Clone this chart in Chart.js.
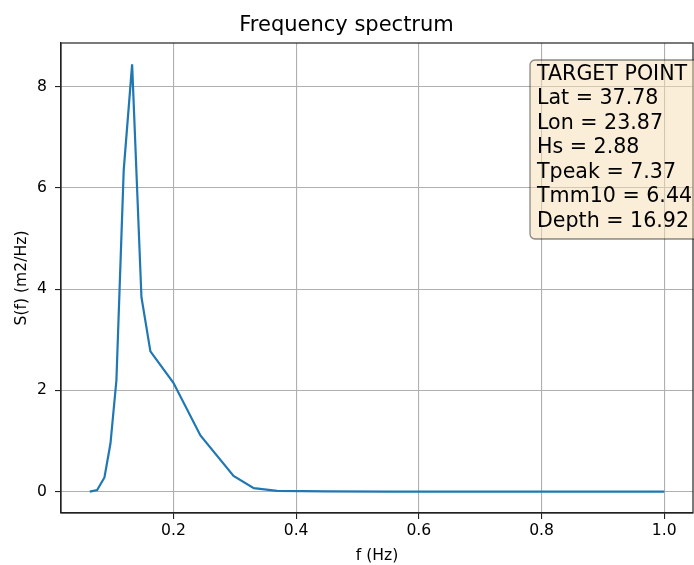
<!DOCTYPE html>
<html>
<head>
<meta charset="utf-8">
<script src="https://cdn.jsdelivr.net/npm/chart.js@4/dist/chart.umd.min.js"></script>
<style>
  html, body { margin: 0; padding: 0; background: #ffffff; }
  #wrap { width: 694px; height: 565px; position: relative; overflow: hidden; }
</style>
</head>
<body>
<div id="wrap"><canvas id="spec" width="694" height="565"></canvas></div>
<script>
// Frequency (Hz) and spectral density S(f) (m2/Hz)
const freq = [0.0636, 0.0757, 0.0876, 0.0974, 0.1071, 0.119, 0.1327, 0.1479, 0.1625, 0.2,
              0.244, 0.298, 0.331, 0.369, 0.45, 0.55, 0.65, 0.75, 0.85, 1.0];
const spec = [0.0, 0.03, 0.28, 0.95, 2.2, 6.35, 8.44, 3.84, 2.77, 2.15,
              1.11, 0.31, 0.07, 0.015, 0.005, 0.002, 0.001, 0.0, 0.0, 0.0];

const xTicks = [0.2, 0.4, 0.6, 0.8, 1.0];
const yTicks = [0, 2, 4, 6, 8];

// Target point summary
const infoLabels = ['Lat', 'Lon', 'Hs', 'Tpeak', 'Tmm10', 'Depth'];
const infoValues = ['37.78', '23.87', '2.88', '7.37', '6.44', '16.92'];
const infoHeader = 'TARGET POINT';

const FONT = "'DejaVu Sans', sans-serif";

// x/y limits with 5% margins around the data range
const xSpan = Math.max(...freq) - Math.min(...freq);
const ySpan = Math.max(...spec) - Math.min(...spec);
const xMin = Math.min(...freq) - 0.05 * xSpan;
const xMax = Math.max(...freq) + 0.05 * xSpan;
const yMin = Math.min(...spec) - 0.05 * ySpan;
const yMax = Math.max(...spec) + 0.05 * ySpan;

const framePlugin = {
  id: 'frame',
  afterDatasetsDraw(chart) {
    const { ctx, chartArea: a } = chart;
    ctx.save();
    ctx.strokeStyle = '#222';
    ctx.lineWidth = 1.2;
    ctx.strokeRect(a.left, a.top, a.right - a.left, a.bottom - a.top);
    ctx.restore();
  }
};

const infoBoxPlugin = {
  id: 'infoBox',
  afterDatasetsDraw(chart) {
    const { ctx } = chart;
    const x0 = 530, y0 = 60, w = 170, h = 179, r = 5;
    ctx.save();
    ctx.beginPath();
    ctx.roundRect(x0, y0, w, h, r);
    ctx.fillStyle = 'rgba(245, 222, 179, 0.5)';
    ctx.fill();
    ctx.strokeStyle = 'rgba(0, 0, 0, 0.45)';
    ctx.lineWidth = 1.3;
    ctx.stroke();
    ctx.fillStyle = '#000';
    ctx.font = '20.6px ' + FONT;
    ctx.textAlign = 'left';
    ctx.textBaseline = 'alphabetic';
    const lines = [infoHeader].concat(infoLabels.map((l, i) => l + ' = ' + infoValues[i]));
    lines.forEach((t, i) => ctx.fillText(t, 537, 80 + 24.45 * i));
    ctx.restore();
  }
};

new Chart(document.getElementById('spec'), {
  type: 'line',
  data: {
    datasets: [{
      data: freq.map((f, i) => ({ x: f, y: spec[i] })),
      borderColor: '#1f77b4',
      borderWidth: 2.2,
      pointRadius: 0,
      tension: 0,
      fill: false
    }]
  },
  options: {
    responsive: false,
    animation: false,
    devicePixelRatio: 1,
    layout: { padding: { left: 0, right: 1, top: 0, bottom: 0 } },
    plugins: {
      legend: { display: false },
      tooltip: { enabled: false },
      title: {
        display: true,
        text: 'Frequency spectrum',
        color: '#000',
        font: { family: FONT, size: 21, weight: 'normal', lineHeight: 1.2 },
        padding: { top: 12.5, bottom: 5.3 }
      }
    },
    scales: {
      x: {
        type: 'linear',
        min: xMin,
        max: xMax,
        afterBuildTicks(scale) { scale.ticks = xTicks.map(v => ({ value: v })); },
        afterFit(scale) { scale.height = 52; },
        ticks: {
          color: '#000',
          font: { family: FONT, size: 15.6 },
          padding: 3,
          maxRotation: 0,
          callback: v => v.toFixed(1)
        },
        grid: { color: '#b0b0b0', lineWidth: 1.1, tickColor: '#222', tickLength: 6, tickWidth: 1.1 },
        border: { display: true, color: '#222', width: 1.2 },
        title: {
          display: true,
          text: 'f (Hz)',
          color: '#000',
          font: { family: FONT, size: 15.6, lineHeight: 1.2 },
          padding: { top: 0, bottom: 0 }
        }
      },
      y: {
        type: 'linear',
        min: yMin,
        max: yMax,
        afterBuildTicks(scale) { scale.ticks = yTicks.map(v => ({ value: v })); },
        afterFit(scale) { scale.width = 61; },
        ticks: {
          color: '#000',
          font: { family: FONT, size: 15.6 },
          padding: 8,
          callback: v => String(v)
        },
        grid: { color: '#b0b0b0', lineWidth: 1.1, tickColor: '#222', tickLength: 6, tickWidth: 1.1 },
        border: { display: true, color: '#222', width: 1.2 },
        title: {
          display: true,
          text: 'S(f) (m2/Hz)',
          color: '#000',
          font: { family: FONT, size: 15.6, lineHeight: 1.2 },
          padding: { top: 13, bottom: 0 }
        }
      }
    }
  },
  plugins: [framePlugin, infoBoxPlugin]
});
</script>
</body>
</html>
